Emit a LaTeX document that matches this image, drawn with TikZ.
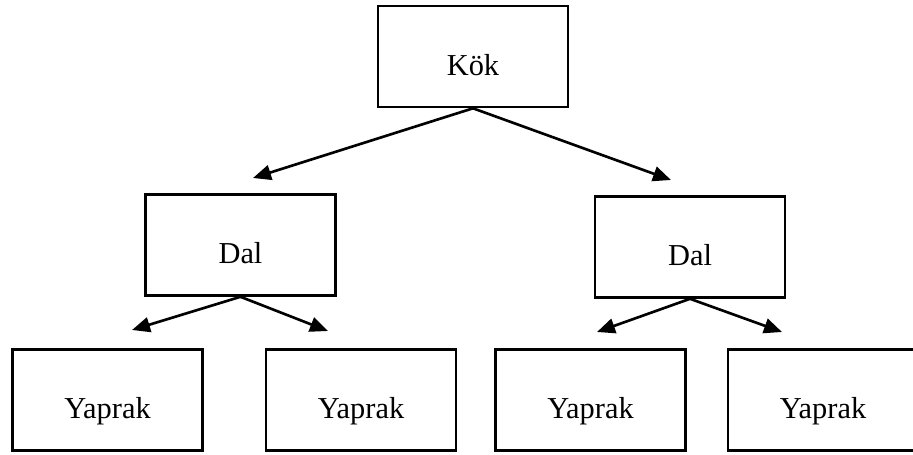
\documentclass[tikz,border=0pt]{standalone}
\usepackage{fontspec}
\setmainfont{Liberation Serif}
\usetikzlibrary{arrows.meta}
\tikzset{
  kutu/.style = {draw, line width = 1.5pt, minimum width = 3.8cm,
                 minimum height = 2.02cm, text height = .76cm, text depth = 0pt,
                 font = \fontsize{17.3}{20}\selectfont},
  ok/.style = {-{Triangle[length = .36cm, width = .3cm]}, line width = 1.5pt}
}
\begin{document}
\begin{tikzpicture}[x = .02cm, y = -.02cm]
  \useasboundingbox (0,0) rectangle (913,455);
  \clip (0,0) rectangle (913,455);
  \node [kutu] (kok) at (473,56.5) {Kök};
  \node [kutu] (dal1) at (240.5,245) {Dal};
  \node [kutu] (dal2) at (690,247) {Dal};
  \foreach \x [count = \i] in {107.5,361,590.5,823}
    \node [kutu] (yaprak\i) at (\x,400) {Yaprak};
  % arrow tips float above the boxes
  \coordinate (u1) at (253,178);
  \coordinate (u2) at (671,180);
  \coordinate (u3) at (132,330);
  \coordinate (u4) at (328,331);
  \coordinate (u5) at (597,332);
  \coordinate (u6) at (782,332);
  \draw [ok] (kok.south) -- (u1);
  \draw [ok] (kok.south) -- (u2);
  \draw [ok] (dal1.south) -- (u3);
  \draw [ok] (dal1.south) -- (u4);
  \draw [ok] (dal2.south) -- (u5);
  \draw [ok] (dal2.south) -- (u6);
\end{tikzpicture}
\end{document}
